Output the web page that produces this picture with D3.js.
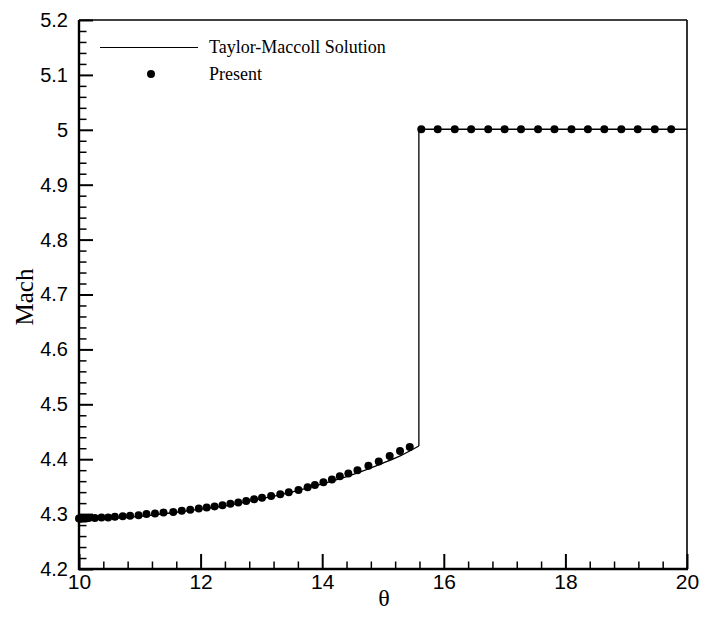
<!DOCTYPE html>
<html>
<head>
<meta charset="utf-8">
<script src="https://cdn.jsdelivr.net/npm/d3@7"></script>
<style>
  html, body { margin: 0; padding: 0; background: #fff; }
  svg { display: block; }
</style>
</head>
<body>
<svg id="chart" width="704" height="618"></svg>
<script>
// ---- data ----
const xTicks = [10, 12, 14, 16, 18, 20];
const yTicks = [4.2, 4.3, 4.4, 4.5, 4.6, 4.7, 4.8, 4.9, 5.0, 5.1, 5.2];
const yTickLabels = ["4.2", "4.3", "4.4", "4.5", "4.6", "4.7", "4.8", "4.9", "5", "5.1", "5.2"];

// Taylor-Maccoll solution (line): smooth pre-shock branch, then shock jump and freestream
const tmTheta = [10.0, 10.5, 11.0, 11.5, 12.0, 12.5, 13.0, 13.5, 14.0, 14.5, 15.0, 15.3, 15.59];
const tmMach  = [4.290, 4.292, 4.296, 4.302, 4.309, 4.317, 4.328, 4.340, 4.355, 4.372, 4.393, 4.407, 4.424];
const shockTheta = [15.59, 15.59, 20.0];
const shockMach  = [4.424, 5.001, 5.001];

// Present (symbols)
const presTheta = [10.00, 10.01, 10.02, 10.04, 10.07, 10.11, 10.16, 10.26, 10.37, 10.48, 10.59, 10.72,
  10.84, 10.98, 11.11, 11.25, 11.39, 11.55, 11.69, 11.83, 11.97, 12.10, 12.23, 12.36, 12.49, 12.62,
  12.75, 12.88, 13.01, 13.16, 13.31, 13.45, 13.61, 13.76, 13.88, 14.02, 14.16, 14.29, 14.43, 14.58,
  14.76, 14.93, 15.11, 15.28, 15.44,
  15.63, 15.90, 16.18, 16.45, 16.73, 17.00, 17.27, 17.55, 17.82, 18.10, 18.37, 18.64, 18.92, 19.19, 19.47, 19.74];
const presMach = [4.292, 4.292, 4.292, 4.292, 4.292, 4.292, 4.293, 4.293, 4.294, 4.294, 4.295, 4.296,
  4.297, 4.298, 4.300, 4.301, 4.303, 4.304, 4.306, 4.308, 4.310, 4.312, 4.314, 4.316, 4.319, 4.321,
  4.324, 4.327, 4.330, 4.333, 4.336, 4.340, 4.344, 4.349, 4.353, 4.358, 4.363, 4.369, 4.374, 4.380,
  4.388, 4.396, 4.406, 4.415, 4.422,
  5.001, 5.001, 5.001, 5.001, 5.001, 5.001, 5.001, 5.001, 5.001, 5.001, 5.001, 5.001, 5.001, 5.001, 5.001, 5.001];

const legendLabels = ["Taylor-Maccoll Solution", "Present"];

// ---- layout ----
const svg = d3.select("#chart");
const L = 79, R = 687, T = 20, B = 569;
const x = d3.scaleLinear().domain([10, 20]).range([L, R]);
const y = d3.scaleLinear().domain([4.2, 5.2]).range([B, T]);

const serif = "'Liberation Serif', 'Times New Roman', serif";
const sans = "'Liberation Sans', Arial, Helvetica, sans-serif";

// minor ticks
const xMinor = d3.range(10, 20.0001, 0.4).map(v => +v.toFixed(2)).filter(v => !xTicks.some(t => Math.abs(t - v) < 1e-6));
const yMinor = d3.range(4.2, 5.2001, 0.02).map(v => +v.toFixed(3)).filter(v => !yTicks.some(t => Math.abs(t - v) < 1e-6));

const gxMinor = svg.append("g").attr("transform", `translate(0,${B})`)
  .call(d3.axisBottom(x).tickValues(xMinor).tickSize(-7.5).tickSizeOuter(0).tickFormat(""));
gxMinor.select(".domain").remove();
gxMinor.selectAll("line").attr("stroke", "#000").attr("stroke-width", 1.5);

const gyMinor = svg.append("g").attr("transform", `translate(${L},0)`)
  .call(d3.axisLeft(y).tickValues(yMinor).tickSize(-7.5).tickSizeOuter(0).tickFormat(""));
gyMinor.select(".domain").remove();
gyMinor.selectAll("line").attr("stroke", "#000").attr("stroke-width", 1.5);

// major axes
const gx = svg.append("g").attr("transform", `translate(0,${B})`)
  .call(d3.axisBottom(x).tickValues(xTicks).tickSize(-15).tickSizeOuter(0).tickPadding(5).tickFormat(d3.format("d")));
gx.select(".domain").remove();
gx.selectAll("line").attr("stroke", "#000").attr("stroke-width", 2);
gx.selectAll("text").attr("font-family", sans).attr("font-size", 21).attr("fill", "#000");

const gy = svg.append("g").attr("transform", `translate(${L},0)`)
  .call(d3.axisLeft(y).tickValues(yTicks).tickSize(-14).tickSizeOuter(0).tickPadding(11)
    .tickFormat((d, i) => yTickLabels[i]));
gy.select(".domain").remove();
gy.selectAll("line").attr("stroke", "#000").attr("stroke-width", 2);
gy.selectAll("text").attr("font-family", sans).attr("font-size", 20).attr("fill", "#000");

// frame
svg.append("line").attr("x1", L).attr("x2", R).attr("y1", T).attr("y2", T).attr("stroke", "#000").attr("stroke-width", 1.6);
svg.append("line").attr("x1", R).attr("x2", R).attr("y1", T).attr("y2", B).attr("stroke", "#000").attr("stroke-width", 1.6);
svg.append("line").attr("x1", L).attr("x2", L).attr("y1", T).attr("y2", B + 1).attr("stroke", "#000").attr("stroke-width", 2.4);
svg.append("line").attr("x1", L - 1).attr("x2", R + 1).attr("y1", B).attr("y2", B).attr("stroke", "#000").attr("stroke-width", 2.4);

// axis titles
svg.append("text").attr("x", 384).attr("y", 606).attr("text-anchor", "middle")
  .attr("font-family", serif).attr("font-size", 24).text("θ");
svg.append("text").attr("transform", `translate(33,297) rotate(-90)`).attr("text-anchor", "middle")
  .attr("font-family", serif).attr("font-size", 25).text("Mach");

// Taylor-Maccoll line
const tmData = tmTheta.map((t, i) => [t, tmMach[i]]);
svg.append("path").datum(tmData)
  .attr("d", d3.line().curve(d3.curveMonotoneX).x(d => x(d[0])).y(d => y(d[1])))
  .attr("fill", "none").attr("stroke", "#000").attr("stroke-width", 1.3);
const shockData = shockTheta.map((t, i) => [t, shockMach[i]]);
svg.append("path").datum(shockData)
  .attr("d", d3.line().x(d => x(d[0])).y(d => y(d[1])))
  .attr("fill", "none").attr("stroke", "#000").attr("stroke-width", 1.3);

// Present symbols
const presData = presTheta.map((t, i) => [t, presMach[i]]);
svg.append("g").selectAll("circle").data(presData).join("circle")
  .attr("cx", d => x(d[0])).attr("cy", d => y(d[1])).attr("r", 4).attr("fill", "#000");

// legend
svg.append("line").attr("x1", 100).attr("x2", 198).attr("y1", 47.5).attr("y2", 47.5)
  .attr("stroke", "#000").attr("stroke-width", 1.2);
svg.append("text").attr("x", 209).attr("y", 53).attr("font-family", serif).attr("font-size", 18).text(legendLabels[0]);
svg.append("circle").attr("cx", 151).attr("cy", 74).attr("r", 4).attr("fill", "#000");
svg.append("text").attr("x", 209).attr("y", 80).attr("font-family", serif).attr("font-size", 18).text(legendLabels[1]);
</script>
</body>
</html>
